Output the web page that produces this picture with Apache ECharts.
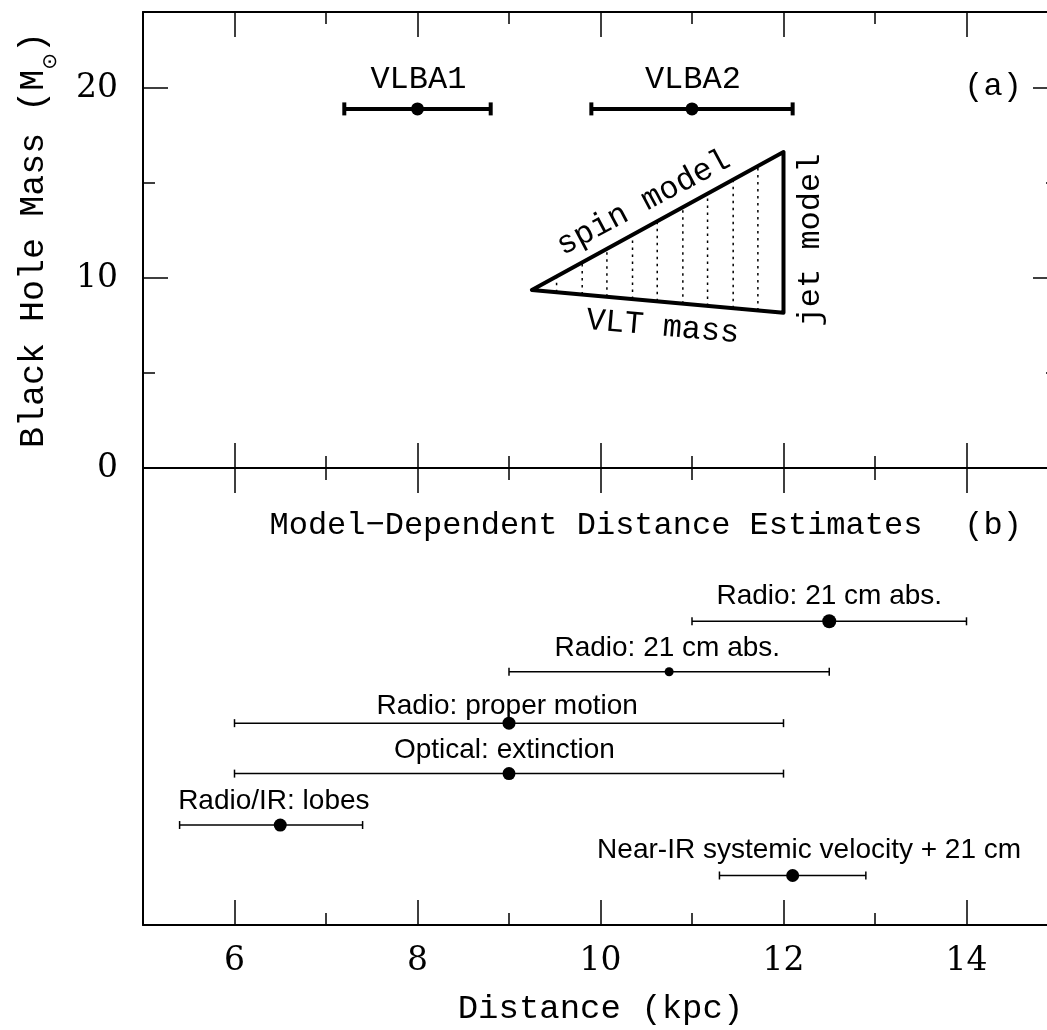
<!DOCTYPE html>
<html><head><meta charset="utf-8">
<script src="https://cdn.jsdelivr.net/npm/echarts@6/dist/echarts.min.js"></script>
<style>html,body{margin:0;padding:0;background:#fff;overflow:hidden}#c{width:1060px;height:1030px}</style>
</head><body><div id="c"></div>
<script>
// ---------- axes ----------
const xMin = 5, xMax = 15;
const xMajorTicks = [6, 8, 10, 12, 14];
const xMinorTicks = [7, 9, 11, 13];
const xTickLabels = [6, 8, 10, 12, 14];
const yMin = 0, yMax = 24;
const yMajorTicks = [0, 10, 20];
const yMinorTicks = [5, 15];
const yTickLabels = [0, 10, 20];
const bMin = -24, bMax = 0;

// ---------- panel (a) ----------
const vlbaNames = ['VLBA1', 'VLBA2'];
const vlbaDist = [8.0, 11.0];
const vlbaLo = [7.2, 9.9];
const vlbaHi = [8.8, 12.1];
const vlbaMass = [18.9, 18.9];
const vlbaLabelX = [8.01, 11.01];
const vlbaLabelY = [20.46, 20.46];

const triX = [9.25, 12.0, 12.0, 9.25];
const triY = [9.37, 16.63, 8.17, 9.37];
const hatchX  = [9.52, 9.80, 10.07, 10.35, 10.62, 10.90, 11.17, 11.45, 11.72];
const hatchLo = [9.25, 9.13, 9.01, 8.89, 8.77, 8.65, 8.53, 8.41, 8.29];
const hatchHi = [10.08, 10.81, 11.53, 12.26, 12.97, 13.71, 14.43, 15.15, 15.88];

const regionNames = ['spin model', 'VLT mass', 'jet model'];
const regionX = [10.47, 10.68, 12.29];
const regionY = [13.95, 7.42, 12.0];
const panelATag = '(a)';
const panelATagX = 14.29, panelATagY = 20.1;

// ---------- panel (b) ----------
const panelBTitle = 'Model\u2212Dependent Distance Estimates';
const panelBTitleX = 9.95, panelBTitleY = -3.0;
const panelBTag = '(b)';
const panelBTagX = 14.29, panelBTagY = -3.0;

const estNames = ['Radio: 21 cm abs.', 'Radio: 21 cm abs.', 'Radio: proper motion',
                  'Optical: extinction', 'Radio/IR: lobes', 'Near-IR systemic velocity + 21 cm'];
const estDist = [12.5, 10.75, 9.0, 9.0, 6.5, 12.1];
const estLo   = [11.0, 9.0, 6.0, 6.0, 5.4, 11.3];
const estHi   = [14.0, 12.5, 12.0, 12.0, 7.4, 12.9];
const estRow  = [-8.05, -10.7, -13.4, -16.05, -18.75, -21.4];
const estLabelX = [12.5, 10.73, 8.98, 8.95, 6.43, 12.28];
const estLabelY = [-6.75, -9.47, -12.52, -14.84, -17.5, -20.06];

// ---------- styles ----------
const MONO = '"Liberation Mono", monospace';
const SERIF = '"DejaVu Serif", serif';
const SANS = '"Liberation Sans", Arial, sans-serif';
const dotSizes = [14, 9, 13, 13, 13, 13];
const regionAngles = [28, -5, 90];

function xAx(gridIndex, position, ticks, len, showLine, extra) {
  return Object.assign({
    type: 'value', gridIndex, position, min: xMin, max: xMax,
    axisLine: {show: showLine, onZero: false, lineStyle: {color: '#000', width: 2}},
    axisTick: {show: true, inside: true, length: len, customValues: ticks, lineStyle: {color: '#000', width: 1.5}},
    axisLabel: {show: false}, splitLine: {show: false}
  }, extra || {});
}
function yAx(gridIndex, position, mn, mx, ticks, len, showLine, extra) {
  return Object.assign({
    type: 'value', gridIndex, position, min: mn, max: mx,
    axisLine: {show: showLine, onZero: false, lineStyle: {color: '#000', width: 2}},
    axisTick: ticks ? {show: true, inside: true, length: len, customValues: ticks, lineStyle: {color: '#000', width: 1.5}} : {show: false},
    axisLabel: {show: false}, splitLine: {show: false}
  }, extra || {});
}

const xAxes = [
  xAx(0, 'top', xMajorTicks, 25, true),
  xAx(0, 'top', xMinorTicks, 12, false),
  xAx(0, 'bottom', xMajorTicks, 25, true),
  xAx(0, 'bottom', xMinorTicks, 12, false),
  xAx(1, 'top', xMajorTicks, 25, true),
  xAx(1, 'top', xMinorTicks, 12, false),
  xAx(1, 'bottom', xMajorTicks, 25, true, {
    axisLabel: {show: true, customValues: xTickLabels, margin: 20, color: '#000', fontFamily: SERIF, fontSize: 33},
    name: 'Distance (kpc)', nameLocation: 'middle', nameGap: 67,
    nameTextStyle: {color: '#000', fontFamily: MONO, fontSize: 34}
  }),
  xAx(1, 'bottom', xMinorTicks, 12, false)
];
const yAxes = [
  yAx(0, 'left', yMin, yMax, yMajorTicks, 25, true, {
    axisLabel: {show: true, customValues: yTickLabels, margin: 25, color: '#000', fontFamily: SERIF, fontSize: 33},
    name: '{n|Black Hole Mass (M}{s|\u2299}{n|)}', nameLocation: 'middle', nameGap: 82,
    nameTextStyle: {color: '#000', fontFamily: MONO, fontSize: 34,
      rich: {n: {fontFamily: MONO, fontSize: 35, color: '#000'},
             s: {fontFamily: '"DejaVu Sans"', fontSize: 20, color: '#000', padding: [34, 0, 0, 0]}}}
  }),
  yAx(0, 'left', yMin, yMax, yMinorTicks, 12, false),
  yAx(0, 'right', yMin, yMax, yMajorTicks, 25, true),
  yAx(0, 'right', yMin, yMax, yMinorTicks, 12, false),
  yAx(1, 'left', bMin, bMax, null, 0, true),
  yAx(1, 'right', bMin, bMax, null, 0, true)
];

function errBar(width, capHalf) {
  return function (params, api) {
    const y = api.value(3);
    const a = api.coord([api.value(1), y]);
    const b = api.coord([api.value(2), y]);
    const st = {stroke: '#000', lineWidth: width};
    return {type: 'group', children: [
      {type: 'line', shape: {x1: a[0], y1: a[1], x2: b[0], y2: b[1]}, style: st},
      {type: 'line', shape: {x1: a[0], y1: a[1] - capHalf, x2: a[0], y2: a[1] + capHalf}, style: st},
      {type: 'line', shape: {x1: b[0], y1: b[1] - capHalf, x2: b[0], y2: b[1] + capHalf}, style: st}
    ]};
  };
}
function textItem(texts, xs, ys, font, angles) {
  return function (params, api) {
    const i = params.dataIndex;
    const p = api.coord([xs[i], ys[i]]);
    const ang = angles ? angles[i] : 0;
    return {type: 'text', x: p[0], y: p[1], rotation: ang * Math.PI / 180,
      style: {text: texts[i], font: font, fill: '#000',
              align: 'center', verticalAlign: 'middle', textAlign: 'center', textVerticalAlign: 'middle'}};
  };
}

const aTexts = vlbaNames.concat(regionNames, [panelATag]);
const aX = vlbaLabelX.concat(regionX, [panelATagX]);
const aY = vlbaLabelY.concat(regionY, [panelATagY]);
const aAng = [0, 0].concat(regionAngles, [0]);

const bTexts = [panelBTitle, panelBTag];
const bX = [panelBTitleX, panelBTagX];
const bY = [panelBTitleY, panelBTagY];

const option = {
  animation: false,
  backgroundColor: '#fff',
  grid: [
    {left: 143, top: 12, right: 2, height: 456},
    {left: 143, top: 468, right: 2, height: 457}
  ],
  xAxis: xAxes,
  yAxis: yAxes,
  series: [
    {type: 'custom', xAxisIndex: 2, yAxisIndex: 0, renderItem: errBar(4, 6.5),
     data: vlbaDist.map((d, i) => [d, vlbaLo[i], vlbaHi[i], vlbaMass[i]]), z: 3},
    {type: 'scatter', xAxisIndex: 2, yAxisIndex: 0, symbolSize: 13, itemStyle: {color: '#000', opacity: 1},
     data: vlbaDist.map((d, i) => [d, vlbaMass[i]]), z: 4},
    {type: 'line', xAxisIndex: 2, yAxisIndex: 0, symbol: 'none',
     lineStyle: {color: '#000', width: 4, join: 'round', cap: 'round'},
     data: triX.map((x, i) => [x, triY[i]]), z: 3},
    {type: 'custom', xAxisIndex: 2, yAxisIndex: 0,
     renderItem: function (params, api) {
       const a = api.coord([api.value(0), api.value(1)]);
       const b = api.coord([api.value(0), api.value(2)]);
       return {type: 'line', shape: {x1: a[0], y1: a[1], x2: b[0], y2: b[1]},
               style: {stroke: '#000', lineWidth: 1.5, lineDash: [2.5, 4.5]}};
     },
     data: hatchX.map((x, i) => [x, hatchLo[i], hatchHi[i]]), z: 2},
    {type: 'custom', xAxisIndex: 2, yAxisIndex: 0,
     renderItem: textItem(aTexts, aX, aY, '32px ' + MONO, aAng),
     data: aTexts.map((t, i) => [aX[i], aY[i]]), z: 5},
    {type: 'custom', xAxisIndex: 6, yAxisIndex: 4, renderItem: errBar(1.5, 4),
     data: estDist.map((d, i) => [d, estLo[i], estHi[i], estRow[i]]), z: 3},
    {type: 'scatter', xAxisIndex: 6, yAxisIndex: 4, itemStyle: {color: '#000', opacity: 1},
     symbolSize: function (v, p) { return dotSizes[p.dataIndex]; },
     data: estDist.map((d, i) => [d, estRow[i]]), z: 4},
    {type: 'custom', xAxisIndex: 6, yAxisIndex: 4,
     renderItem: textItem(estNames, estLabelX, estLabelY, '28px ' + SANS, null),
     data: estNames.map((t, i) => [estLabelX[i], estLabelY[i]]), z: 5},
    {type: 'custom', xAxisIndex: 6, yAxisIndex: 4,
     renderItem: textItem(bTexts, bX, bY, '32px ' + MONO, null),
     data: bTexts.map((t, i) => [bX[i], bY[i]]), z: 5}
  ]
};
const chart = echarts.init(document.getElementById('c'), null, {renderer: 'canvas'});
chart.setOption(option);
</script></body></html>
